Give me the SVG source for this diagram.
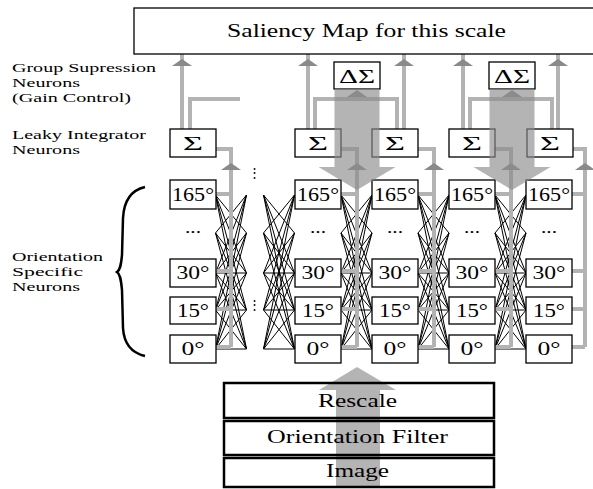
<svg xmlns="http://www.w3.org/2000/svg" xmlns:xlink="http://www.w3.org/1999/xlink" width="593" height="489" viewBox="0 0 593 489">
<style>
.t{font-family:"Liberation Serif","Times New Roman",serif;fill:#000}
.box{fill:#fff;stroke:#000;stroke-width:1.3}
.bb{fill:none;stroke:#000;stroke-width:2.5}
.g{fill:none;stroke:#b3b3b3;stroke-width:4}
.ah{fill:#8a8a8a}
.fan{fill:none;stroke:#000;stroke-width:1}
.big{fill:#8c8c8c;fill-opacity:0.65}
.n{font-size:18px;text-anchor:middle}
.s{font-size:19px;text-anchor:middle}
.lab{font-size:13px}
.dots{font-size:16px;text-anchor:middle}
.vd{font-family:"DejaVu Serif",serif;font-size:13px;text-anchor:middle}
</style>
<defs>
<path id="fan" d="M0 195L31 233M0 195L31 273M0 195L31 310M0 195L31 349M0 233L31 195M0 233L31 273M0 233L31 310M0 233L31 349M0 273L31 195M0 273L31 233M0 273L31 273M0 273L31 310M0 273L31 349M0 310L31 195M0 310L31 233M0 310L31 273M0 310L31 310M0 310L31 349M0 349L31 195M0 349L31 233M0 349L31 273M0 349L31 310M0 349L31 349"/>
<path id="ahUp" d="M-10 7L0 0L10 7Z"/>
<path id="bigDown" d="M-22.5 0H22.5V78H38.5L0 101L-38.5 78H-22.5Z"/>
</defs>

<!-- labels -->
<g id="labels" class="t lab">
<text x="12" y="72" textLength="144" lengthAdjust="spacingAndGlyphs">Group Supression</text>
<text x="12" y="87" textLength="68" lengthAdjust="spacingAndGlyphs">Neurons</text>
<text x="12" y="102" textLength="119" lengthAdjust="spacingAndGlyphs">(Gain Control)</text>
<text x="12" y="139" textLength="134" lengthAdjust="spacingAndGlyphs">Leaky Integrator</text>
<text x="12" y="154" textLength="68" lengthAdjust="spacingAndGlyphs">Neurons</text>
<text x="12" y="261" textLength="91" lengthAdjust="spacingAndGlyphs">Orientation</text>
<text x="12" y="276" textLength="71" lengthAdjust="spacingAndGlyphs">Specific</text>
<text x="12" y="291" textLength="68" lengthAdjust="spacingAndGlyphs">Neurons</text>
</g>
<path id="brace" d="M145 187C132 190 124 200 123 218L122 255C121 266 120 270 117 272C120 274 121 279 122 290L123 328C124 345 132 353 145 356" fill="none" stroke="#000" stroke-width="2.5"/>

<g id="connectors">
<g class="fan">
<use xlink:href="#fan" x="215.5"/>
<use xlink:href="#fan" x="263.5"/>
<use xlink:href="#fan" x="341"/>
<use xlink:href="#fan" x="418"/>
<use xlink:href="#fan" x="495"/>
</g>
<g class="g">
<path d="M182 129V54M308 129V54M404 129V54M463 129V54M558 129V54"/>
<path d="M190 129V99H240"/>
<path d="M315 129V99H397V129"/>
<path d="M470 129V99H552V129"/>
<path d="M216 149H231V347M215 194H231M215 271H231M215 309H231M215 347H231"/>
<path d="M341 149H357V347M341 194H357M341 271H357M341 309H357M341 347H357"/>
<path d="M418 149H434V347M418 194H434M418 271H434M418 309H434M418 347H434"/>
<path d="M495 149H511V347M495 194H511M495 271H511M495 309H511M495 347H511"/>
<path d="M573 149H585V347M572 194H585M572 271H585M572 309H585M572 347H585"/>
</g>
<g class="ah">
<use xlink:href="#ahUp" x="182" y="59"/>
<use xlink:href="#ahUp" x="308" y="59"/>
<use xlink:href="#ahUp" x="404" y="59"/>
<use xlink:href="#ahUp" x="463" y="59"/>
<use xlink:href="#ahUp" x="558" y="59"/>
<use xlink:href="#ahUp" x="357" y="90"/>
<use xlink:href="#ahUp" x="512" y="90"/>
<use xlink:href="#ahUp" x="231" y="163"/>
<use xlink:href="#ahUp" x="357" y="163"/>
<use xlink:href="#ahUp" x="434" y="163"/>
<use xlink:href="#ahUp" x="511" y="163"/>
<use xlink:href="#ahUp" x="585" y="163"/>
</g>
</g>

<g id="saliency">
<rect x="134" y="8" width="470" height="46" class="box" stroke-width="1.5"/>
<text class="t" x="227" y="37" font-size="19" textLength="279" lengthAdjust="spacingAndGlyphs">Saliency Map for this scale</text>
</g>

<g id="dsum1"><rect x="334" y="62" width="46" height="27" class="box"/><text class="t s" x="357" y="83" textLength="36" lengthAdjust="spacingAndGlyphs">ΔΣ</text></g>
<g id="dsum2"><rect x="489" y="62" width="46" height="27" class="box"/><text class="t s" x="512" y="83" textLength="36" lengthAdjust="spacingAndGlyphs">ΔΣ</text></g>

<g id="sum1"><rect x="170" y="129" width="46" height="28" class="box"/><text class="t s" x="193" y="150" textLength="20" lengthAdjust="spacingAndGlyphs">Σ</text></g>
<g id="sum2"><rect x="295" y="129" width="46" height="28" class="box"/><text class="t s" x="318" y="150" textLength="20" lengthAdjust="spacingAndGlyphs">Σ</text></g>
<g id="sum3"><rect x="372" y="129" width="46" height="28" class="box"/><text class="t s" x="395" y="150" textLength="20" lengthAdjust="spacingAndGlyphs">Σ</text></g>
<g id="sum4"><rect x="449" y="129" width="46" height="28" class="box"/><text class="t s" x="472" y="150" textLength="20" lengthAdjust="spacingAndGlyphs">Σ</text></g>
<g id="sum5"><rect x="527" y="129" width="46" height="28" class="box"/><text class="t s" x="550" y="150" textLength="20" lengthAdjust="spacingAndGlyphs">Σ</text></g>

<g id="col1">
<rect x="170" y="180" width="46" height="29" class="box"/><text class="t n" x="193" y="201" textLength="42" lengthAdjust="spacingAndGlyphs">165°</text>
<text class="t dots" x="193" y="233" textLength="16" lengthAdjust="spacingAndGlyphs">...</text>
<rect x="170" y="259" width="46" height="28" class="box"/><text class="t n" x="193" y="279" textLength="33" lengthAdjust="spacingAndGlyphs">30°</text>
<rect x="170" y="297" width="46" height="27" class="box"/><text class="t n" x="193" y="317" textLength="32" lengthAdjust="spacingAndGlyphs">15°</text>
<rect x="170" y="335" width="46" height="28" class="box"/><text class="t n" x="193" y="355" textLength="23" lengthAdjust="spacingAndGlyphs">0°</text>
</g>
<g id="col2">
<rect x="295" y="180" width="46" height="29" class="box"/><text class="t n" x="318" y="201" textLength="42" lengthAdjust="spacingAndGlyphs">165°</text>
<text class="t dots" x="318" y="233" textLength="16" lengthAdjust="spacingAndGlyphs">...</text>
<rect x="295" y="259" width="46" height="28" class="box"/><text class="t n" x="318" y="279" textLength="33" lengthAdjust="spacingAndGlyphs">30°</text>
<rect x="295" y="297" width="46" height="27" class="box"/><text class="t n" x="318" y="317" textLength="32" lengthAdjust="spacingAndGlyphs">15°</text>
<rect x="295" y="335" width="46" height="28" class="box"/><text class="t n" x="318" y="355" textLength="23" lengthAdjust="spacingAndGlyphs">0°</text>
</g>
<g id="col3">
<rect x="372" y="180" width="46" height="29" class="box"/><text class="t n" x="395" y="201" textLength="42" lengthAdjust="spacingAndGlyphs">165°</text>
<text class="t dots" x="395" y="233" textLength="16" lengthAdjust="spacingAndGlyphs">...</text>
<rect x="372" y="259" width="46" height="28" class="box"/><text class="t n" x="395" y="279" textLength="33" lengthAdjust="spacingAndGlyphs">30°</text>
<rect x="372" y="297" width="46" height="27" class="box"/><text class="t n" x="395" y="317" textLength="32" lengthAdjust="spacingAndGlyphs">15°</text>
<rect x="372" y="335" width="46" height="28" class="box"/><text class="t n" x="395" y="355" textLength="23" lengthAdjust="spacingAndGlyphs">0°</text>
</g>
<g id="col4">
<rect x="449" y="180" width="46" height="29" class="box"/><text class="t n" x="472" y="201" textLength="42" lengthAdjust="spacingAndGlyphs">165°</text>
<text class="t dots" x="472" y="233" textLength="16" lengthAdjust="spacingAndGlyphs">...</text>
<rect x="449" y="259" width="46" height="28" class="box"/><text class="t n" x="472" y="279" textLength="33" lengthAdjust="spacingAndGlyphs">30°</text>
<rect x="449" y="297" width="46" height="27" class="box"/><text class="t n" x="472" y="317" textLength="32" lengthAdjust="spacingAndGlyphs">15°</text>
<rect x="449" y="335" width="46" height="28" class="box"/><text class="t n" x="472" y="355" textLength="23" lengthAdjust="spacingAndGlyphs">0°</text>
</g>
<g id="col5">
<rect x="526" y="180" width="46" height="29" class="box"/><text class="t n" x="549" y="201" textLength="42" lengthAdjust="spacingAndGlyphs">165°</text>
<text class="t dots" x="549" y="233" textLength="16" lengthAdjust="spacingAndGlyphs">...</text>
<rect x="526" y="259" width="46" height="28" class="box"/><text class="t n" x="549" y="279" textLength="33" lengthAdjust="spacingAndGlyphs">30°</text>
<rect x="526" y="297" width="46" height="27" class="box"/><text class="t n" x="549" y="317" textLength="32" lengthAdjust="spacingAndGlyphs">15°</text>
<rect x="526" y="335" width="46" height="28" class="box"/><text class="t n" x="549" y="355" textLength="23" lengthAdjust="spacingAndGlyphs">0°</text>
</g>

<g id="vellipsis">
<text class="vd" x="254" y="177">⋮</text>
<text class="vd" x="254" y="309">⋮</text>
</g>

<g id="bigArrows">
<use xlink:href="#bigDown" x="357" y="89" class="big"/>
<use xlink:href="#bigDown" x="512" y="89" class="big"/>
<path d="M336 488V390H319L357 367L396 390H380V488Z" fill="#b4b4b4"/>
</g>

<g id="rescale"><rect x="224" y="383" width="270" height="35" class="bb"/><text class="t" x="318" y="407" font-size="18" textLength="79" lengthAdjust="spacingAndGlyphs">Rescale</text></g>
<g id="orientFilter"><rect x="224" y="421" width="270" height="34" class="bb"/><text class="t" x="267" y="443" font-size="18" textLength="181" lengthAdjust="spacingAndGlyphs">Orientation Filter</text></g>
<g id="image"><rect x="224" y="458" width="270" height="29" class="bb"/><text class="t" x="326" y="477" font-size="18" textLength="63" lengthAdjust="spacingAndGlyphs">Image</text></g>
</svg>
